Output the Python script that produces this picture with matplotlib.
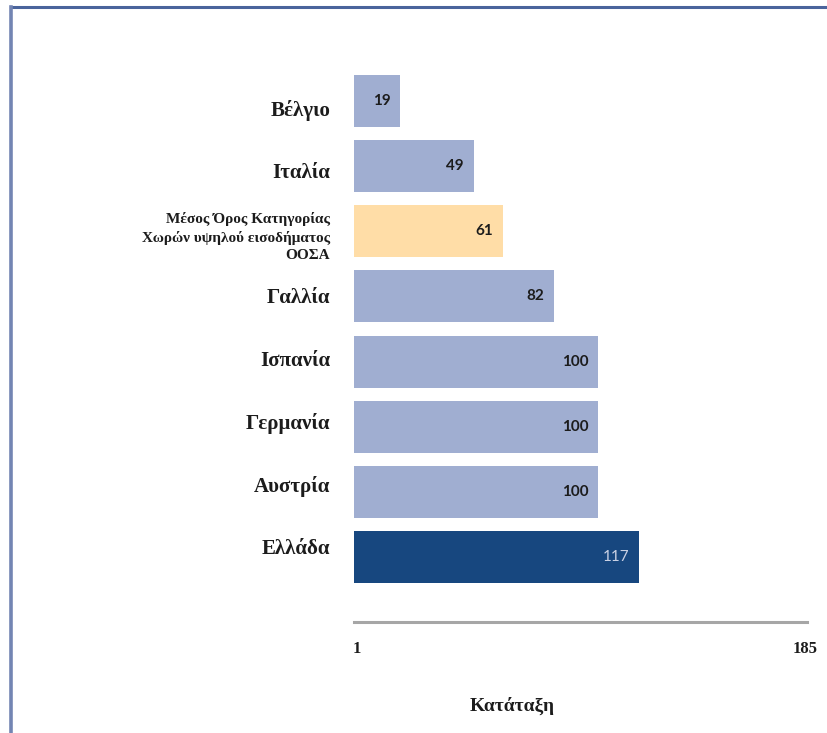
import matplotlib
matplotlib.use("Agg")
import matplotlib.pyplot as plt
from matplotlib.lines import Line2D

# palette
LIGHT = "#a0aed1"; AVG = "#ffdda7"; GREECE = "#17477f"
INK = "#1c1c1c"; AXIS = "#a6a6a6"; FRAME = "#4a649c"

# data (top to bottom)
countries = ["Βέλγιο", "Ιταλία", "Μέσος Όρος Κατηγορίας\nΧωρών υψηλού εισοδήματος\nΟΟΣΑ",
             "Γαλλία", "Ισπανία", "Γερμανία", "Αυστρία", "Ελλάδα"]
ranks = [19, 49, 61, 82, 100, 100, 100, 117]
kinds = ["c", "c", "avg", "c", "c", "c", "c", "gr"]
x_ticks = [1, 185]

color_of = {"c": LIGHT, "avg": AVG, "gr": GREECE}

# plot bottom-up
labels = countries[::-1]
vals = ranks[::-1]
cols = [color_of[k] for k in kinds[::-1]]
ypos = list(range(len(vals)))

fig = plt.figure(figsize=(8.28, 7.33), dpi=100)
fig.patch.set_facecolor("white")
rect = [0.4275, 0.1514, 0.547, 0.764]
ax = fig.add_axes(rect)
bars = ax.barh(ypos, vals, height=0.8, color=cols, edgecolor="none")
ax.set_xlim(0, 185.6)
ax.set_ylim(-1.0, 7.6)

for b, v, k in zip(bars, vals, kinds[::-1]):
    tc = "#c9d1e4" if k == "gr" else INK
    fw = "normal" if k == "gr" else "bold"
    ax.annotate(f"{v}", (v, b.get_y() + b.get_height() / 2), xytext=(-7, 0),
                textcoords="offset points", ha="right", va="center",
                fontsize=11, fontweight=fw, color=tc, family="Lato")

for s in ["top", "right", "left"]:
    ax.spines[s].set_visible(False)
ax.spines["bottom"].set_color(AXIS)
ax.spines["bottom"].set_linewidth(2.2)
ax.set_yticks([])
ax.set_xticks(x_ticks)
ax.set_xticklabels([str(t) for t in x_ticks], family="Liberation Serif",
                   fontweight="bold", fontsize=12, color=INK)
ax.tick_params(axis="x", length=0, pad=14)
ax.set_xlabel("Κατάταξη", family="Liberation Serif", fontweight="bold",
              fontsize=14, color=INK)
ax.xaxis.set_label_coords(0.35, -0.134)

# category labels sit on a slightly tighter spacing than the bars
lab = fig.add_axes(rect, frameon=False)
lab.set_xlim(0, 1)
lab.set_ylim(-1.2, 7.73)
lab.set_xticks([])
lab.set_yticks(ypos)
lab.set_yticklabels(labels, family="Liberation Serif", fontweight="bold", color=INK)
for t, lbl in zip(lab.get_yticklabels(), labels):
    if "\n" in lbl:
        t.set_fontsize(11)
        t.set_linespacing(1.45)
    else:
        t.set_fontsize(15)
lab.tick_params(axis="y", length=0, pad=17)
lab.patch.set_visible(False)

# page frame (top and left edges)
fig.add_artist(Line2D([11 / 828, 1], [1 - 7 / 733, 1 - 7 / 733], color=FRAME, lw=2.2))
fig.add_artist(Line2D([11 / 828, 11 / 828], [0, 1 - 7 / 733], color="#7385b3", lw=2.6))

fig.savefig("out.png", dpi=100, facecolor="white")
